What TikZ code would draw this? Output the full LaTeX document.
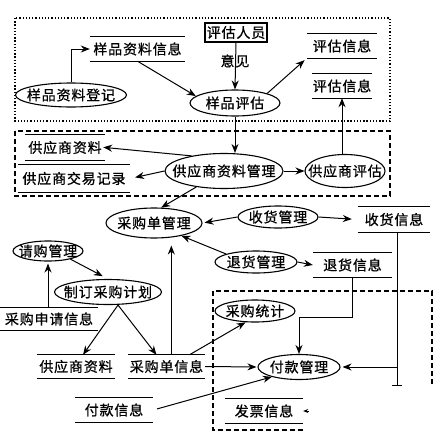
\documentclass[tikz,border=0pt]{standalone}
\usepackage{fontspec}
\newfontfamily\cjk[LetterSpace=6,FakeBold=0.8]{Noto Sans CJK SC}
\usetikzlibrary{shapes.geometric,arrows.meta}
\begin{document}
\begin{tikzpicture}[x=1pt,y=-1pt,
  every node/.style={font={\cjk\fontsize{14}{14}\selectfont}, inner sep=0pt},
  pe/.style n args={3}{ellipse, draw, line width=1.1pt, minimum width=#1, minimum height=#2, label={center:#3}},
  store/.style n args={2}{rectangle, minimum width=#1, minimum height=#2},
  storeline/.style={line width=1.1pt},
  arr/.style={-{Stealth[length=9pt,width=7pt]}, line width=1pt},
  ln/.style={line width=1pt},
  dotbox/.style={line width=1.2pt, dash pattern=on 1.3pt off 1.9pt},
  dashbox/.style={line width=1.2pt, dash pattern=on 5pt off 3pt}]
\useasboundingbox (0,0) rectangle (445,447);

% frames
\draw[dotbox] (15,18) rectangle (390,121);
\draw[dashbox] (15,131) rectangle (390,196);
\draw[dashbox] (303,430) -- (213,430) -- (213,291) -- (432,291) -- (432,385);

% boxes / ellipses
\node[draw, line width=1.1pt, minimum width=62pt, minimum height=19pt] (person) at (236,32.5) {评估人员};
\node[pe={111pt}{24pt}{样品资料登记}] (reg) at (71,95) {};
\node[pe={90pt}{26pt}{样品评估}] (sev) at (235,103) {};
\node[pe={118pt}{35pt}{供应商资料管理}] (smgr) at (224,171) {};
\node[pe={80pt}{33pt}{供应商评估}] (seval) at (345,171) {};
\node[pe={96pt}{30pt}{采购单管理}] (pom) at (154,223) {};
\node[pe={80pt}{22pt}{收货管理}] (rcv) at (278,217) {};
\node[pe={82pt}{22pt}{退货管理}] (rtn) at (256,262) {};
\node[pe={70pt}{20pt}{请购管理}] (reqm) at (48,251) {};
\node[pe={107pt}{25pt}{制订采购计划}] (plan) at (108,292) {};
\node[pe={80pt}{22pt}{采购统计}] (stat) at (255,311) {};
\node[pe={82pt}{25pt}{付款管理}] (pay) at (299,367) {};

% data stores
\node[store={95pt}{24pt}] (sinfo) at (137.5,49) {样品资料信息};
\node[store={70pt}{24pt}] (eval1) at (342,46) {评估信息};
\node[store={60pt}{24pt}] (eval2) at (342,86) {评估信息};
\node[store={80pt}{25pt}] (sup1) at (65,147.5) {供应商资料};
\node[store={112pt}{27pt}] (suprec) at (74,178.5) {供应商交易记录};
\node[store={72pt}{25pt}] (recv) at (394,219.5) {收货信息};
\node[store={79pt}{24pt}] (ret) at (352.5,265) {退货信息};
\node[store={98pt}{22pt}] (reqinfo) at (49,319) {采购申请信息};
\node[store={78pt}{23pt}] (sup2) at (76,366.5) {供应商资料};
\node[store={77pt}{23pt}] (poinfo) at (166.5,366.5) {采购单信息};
\node[store={78pt}{24pt}] (payinfo) at (114,410) {付款信息};
\node[store={78pt}{24pt}] (invoice) at (264,411) {发票信息};
\foreach \n in {sinfo,eval1,eval2,sup1,suprec,recv,ret,reqinfo,sup2,poinfo,payinfo,invoice}
  \draw[storeline] (\n.north west) -- (\n.north east) (\n.south west) -- (\n.south east);

% label
\node (yijian) at (235,61) {意见};

% connectors
\draw[arr] (reg.north) |- (sinfo.west);
\draw[arr] (sinfo.south) -- (sev.170);
\draw[arr] (person.south) -- (sev.north);
\draw[arr, shorten >=3pt] (sev.north east) -- (eval1.south west);
\draw[arr] (eval2.south |- seval.north) -- (eval2.south);
\draw[arr] (sev.south) -- (sev.south |- smgr.north);
\draw[arr] (smgr.east) -- (seval.west);
\draw[arr, shorten >=-2pt] (smgr.155) -- (sup1.east);
\draw[arr, shorten >=5pt] (smgr.west) -- (suprec.east);
\draw[arr] (smgr.210) -- (pom.65);
\draw[arr, shorten >=2pt] (rcv.west) -- (pom.east);
\draw[arr, shorten >=6pt] (rcv.east) -- (recv.west);
\draw[arr] (rtn.165) -- (pom.335);
\draw[arr] (rtn.east) -- (ret.west);
\coordinate (rvend) at (397,385);
\draw[ln] (recv.south -| rvend) -- (rvend);
\draw[ln] ([xshift=-5pt]rvend) -- ([xshift=5pt]rvend);
\draw[arr, shorten >=2pt] (pay.east -| rvend) -- (pay.east);
\draw[arr] (ret.south) -- ++(0,40) -| (pay.north);
\draw[arr] (poinfo.27) -- (stat.230);
\draw[arr, shorten >=1pt] (poinfo.east) -- (pay.west);
\draw[arr, shorten >=8pt] (poinfo.north -| pom.320) -- (pom.320);
\draw[arr, shorten <=4pt] (payinfo.east) -- (pay.200);
\draw[arr] ([xshift=10pt]plan.south) -- ([xshift=7pt]sup2.north);
\draw[arr] ([xshift=10pt]plan.south) -- ([xshift=-10pt]poinfo.north);
\draw[arr, shorten >=2pt] (reqinfo.north -| reqm.south) -- (reqm.south);
\draw[arr, shorten >=6pt] (reqm.340) -- (plan.north);
\draw[-{Stealth[length=5pt,width=4pt]}, line width=0.8pt] ([xshift=6pt]invoice.east) -- (invoice.east);
\end{tikzpicture}
\end{document}
